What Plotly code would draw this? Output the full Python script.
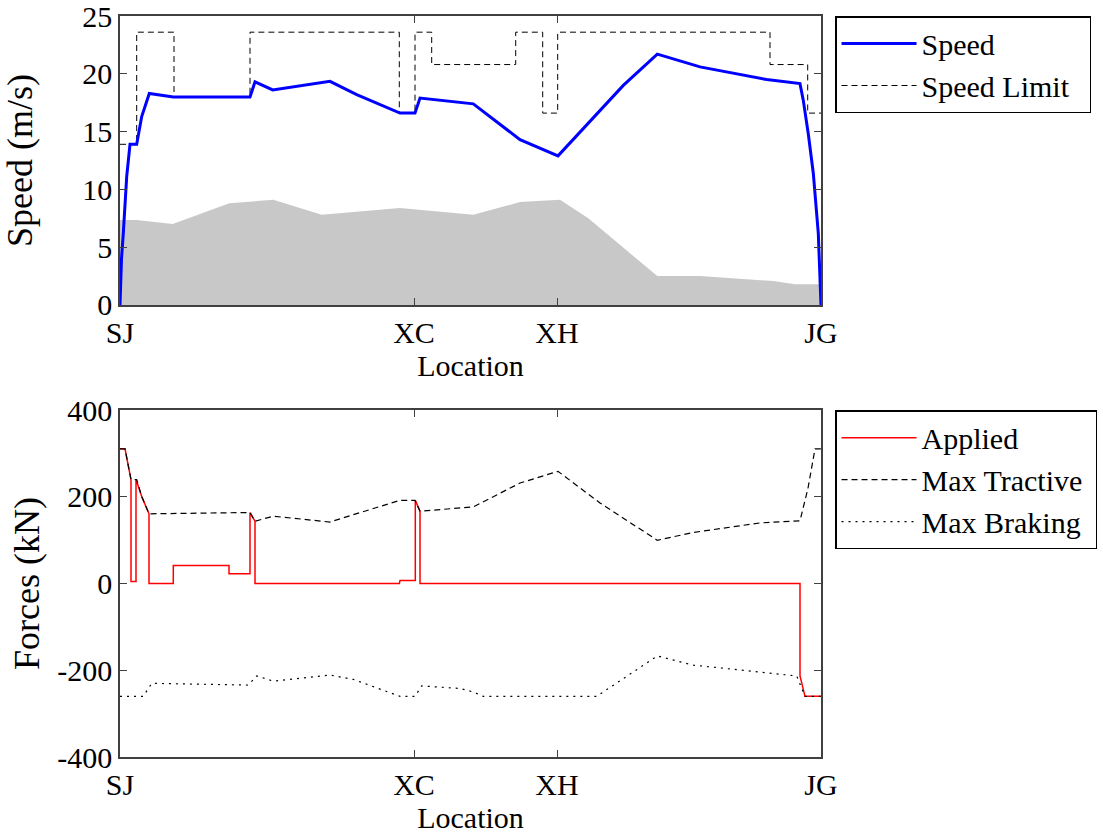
import plotly.graph_objects as go

# ---------------- data ----------------
station_names = ["SJ", "XC", "XH", "JG"]
station_pos = [0, 2940, 4370, 7010]          # location (m)

# train speed (m/s)
speed_x = [0, 15, 33, 67, 100, 167, 217, 293, 533, 1300, 1350, 1527, 2100, 2367,
           2800, 2950, 3000, 3533, 4000, 4380, 5033, 5373, 5800, 6467, 6800,
           6833, 6883, 6933, 6983, 7010]
speed_v = [0, 4.0, 6.2, 11.1, 13.9, 13.9, 16.3, 18.3, 18.0, 18.0, 19.3, 18.6, 19.35, 18.2,
           16.6, 16.6, 17.9, 17.4, 14.3, 12.9, 19.0, 21.7, 20.6, 19.5, 19.15,
           17.7, 14.8, 11.4, 6.2, 0]

# speed limit (m/s), step changes at limit_x
limit_x = [0, 167, 540, 1300, 2793, 2950, 3117, 3957, 4227, 4377, 6500, 6877, 7010]
limit_v = [13.9, 23.6, 18.0, 23.6, 16.6, 23.6, 20.8, 23.6, 16.6, 23.6, 20.8, 16.6, 16.6]

# grey background profile
profile_x = [0, 167, 527, 1093, 1533, 2017, 2800, 3133, 3533, 4000, 4400, 4683,
             5373, 5800, 6533, 6750, 7010]
profile_v = [7.35, 7.35, 7.0, 8.8, 9.1, 7.8, 8.4, 8.15, 7.8, 8.9, 9.1, 7.5,
             2.5, 2.5, 2.07, 1.8, 1.8]

# max tractive force (kN)
tract_x = [0, 50, 110, 167, 217, 290, 1300, 1350, 1533, 2100, 2333, 2800, 2950,
           3000, 3533, 4000, 4380, 4800, 5373, 5733, 6400, 6800, 6880, 6950, 7010]
tract_f = [311, 311, 240, 240, 201, 161, 164, 144, 155.5, 142, 159, 192, 192,
           167, 177, 232, 259, 186, 100, 118, 140, 145, 220, 311, 311]

# max braking force (kN)
brake_x = [0, 233, 317, 1283, 1367, 1533, 2100, 2333, 2800, 2950, 3017, 3400,
           3533, 3633, 4767, 5373, 5733, 6767, 6850, 7010]
brake_f = [-260, -260, -230, -234, -213, -225, -211, -221, -260, -260, -236, -242,
           -250, -260, -260, -167, -188, -213, -260, -260]

# applied force (kN)
applied_x = [0, 50, 110, 110, 160, 160, 217, 290, 290, 533, 533, 1090, 1090,
             1300, 1300, 1350, 1350, 2793, 2800, 2953, 2953, 3000, 3000,
             6800, 6800, 6850, 7010]
applied_f = [311, 311, 240, 5, 5, 240, 201, 161, 0, 0, 42, 42, 23,
             23, 164, 144, 0, 0, 7, 7, 192, 167, 0,
             0, -213, -260, -260]

# ---------------- figure ----------------
FONT = "Liberation Serif, Times New Roman, Times, serif"
AX = "#404040"
NB = "\u00a0"

fig = go.Figure()

fig.add_trace(go.Scatter(x=profile_x, y=profile_v, mode="lines", fill="tozeroy",
                         fillcolor="#c8c8c8", line=dict(width=0, color="#c8c8c8"),
                         showlegend=False, xaxis="x", yaxis="y", hoverinfo="skip"))
fig.add_trace(go.Scatter(x=limit_x, y=limit_v, mode="lines", line_shape="hv",
                         name="Speed Limit" + NB * 2,
                         line=dict(color="black", width=1, dash="6px,4px"),
                         legend="legend", legendrank=2, xaxis="x", yaxis="y"))
fig.add_trace(go.Scatter(x=speed_x, y=speed_v, mode="lines", name="Speed",
                         line=dict(color="#0000ff", width=3),
                         legend="legend", legendrank=1, xaxis="x", yaxis="y"))

fig.add_trace(go.Scatter(x=applied_x, y=applied_f, mode="lines", name="Applied",
                         line=dict(color="#ff0000", width=1.5),
                         legend="legend2", legendrank=1, xaxis="x2", yaxis="y2"))
fig.add_trace(go.Scatter(x=tract_x, y=tract_f, mode="lines", name="Max Tractive" + NB,
                         line=dict(color="black", width=1.2, dash="6px,4px"),
                         legend="legend2", legendrank=2, xaxis="x2", yaxis="y2"))
fig.add_trace(go.Scatter(x=brake_x, y=brake_f, mode="lines", name="Max Braking",
                         line=dict(color="black", width=1.2, dash="2px,5px"),
                         legend="legend2", legendrank=3, xaxis="x2", yaxis="y2"))

common = dict(showline=True, linecolor=AX, linewidth=1.5, mirror="ticks",
              ticks="inside", ticklen=7, tickcolor=AX, tickwidth=1,
              showgrid=False, zeroline=False, automargin=False,
              ticklabeloverflow="allow",
              tickfont=dict(family=FONT, size=30, color="black"))

xcommon = dict(common, range=[0, 7010], tickmode="array", tickvals=station_pos,
               ticktext=station_names,
               title=dict(text="Location", font=dict(family=FONT, size=30, color="black"),
                          standoff=4))

fig.update_layout(
    width=1103, height=839,
    margin=dict(l=120, r=282, t=16, b=82, autoexpand=False),
    plot_bgcolor="white", paper_bgcolor="white",
    font=dict(family=FONT, size=30, color="black"),
    xaxis=dict(xcommon, domain=[0, 1], anchor="y"),
    yaxis=dict(common, domain=[0.61, 1], range=[0, 25], tickmode="array",
               tickvals=[0, 5, 10, 15, 20, 25], ticktext=["0", "5", "10", "15", "20", "25"],
               title=dict(text="Speed (m/s)", standoff=40), anchor="x"),
    xaxis2=dict(xcommon, domain=[0, 1], anchor="y2"),
    yaxis2=dict(common, domain=[0, 0.468], range=[-400, 400], tickmode="array",
                tickvals=[-400, -200, 0, 200, 400],
                ticktext=["-400", "-200", "0", "200", "400"],
                title=dict(text="Forces (kN)", standoff=7), anchor="x2"),
    legend=dict(x=1.02, y=1, xanchor="left", yanchor="top", bordercolor="black",
                borderwidth=1.5, bgcolor="white", itemwidth=75,
                font=dict(family=FONT, size=30, color="black"),
                traceorder="normal"),
    legend2=dict(x=1.02, y=0.468, xanchor="left", yanchor="top", bordercolor="black",
                 borderwidth=1.5, bgcolor="white", itemwidth=75,
                 font=dict(family=FONT, size=30, color="black"),
                 traceorder="normal"),
    showlegend=True,
)

fig.write_html("out.html", config={"displayModeBar": False},
               post_script="document.body.style.margin='0';")
